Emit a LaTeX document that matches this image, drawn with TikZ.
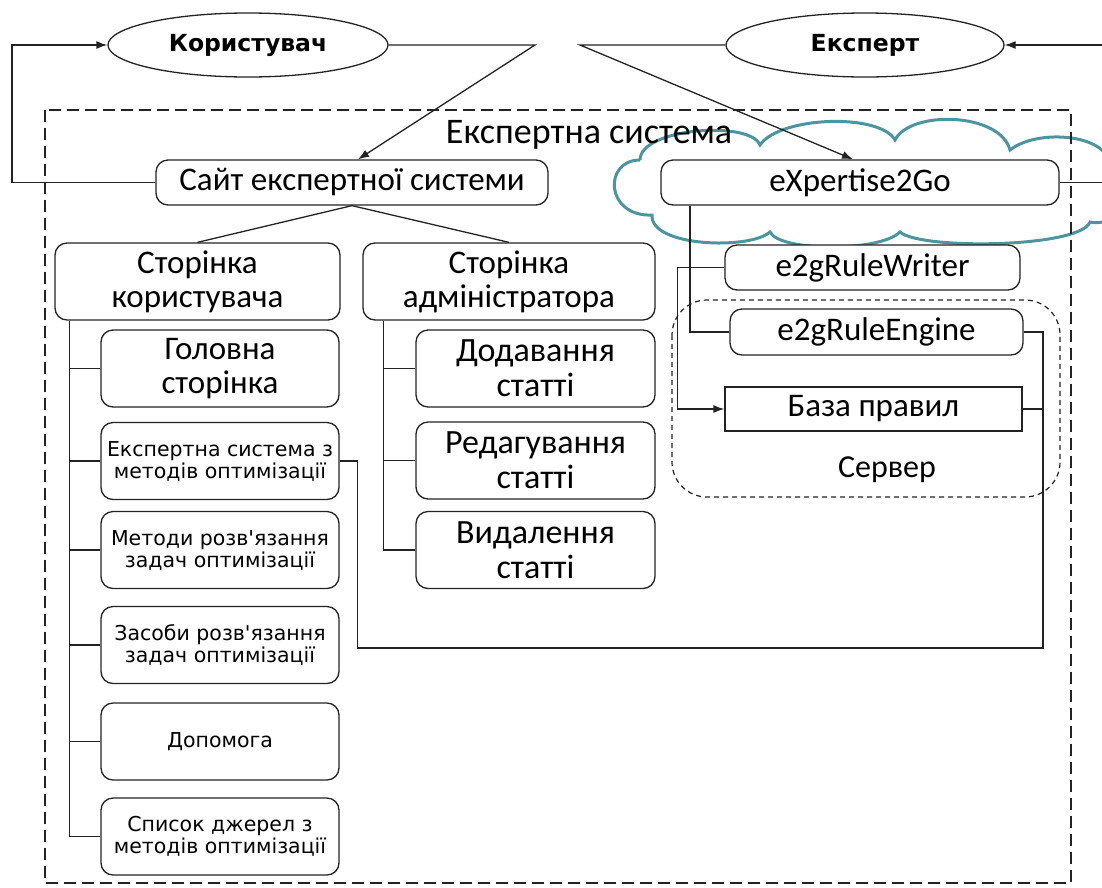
\documentclass[tikz,border=0pt]{standalone}
\usepackage{fontspec}
\setmainfont{Carlito}
\newfontfamily\verdfont{DejaVu Sans}
\usetikzlibrary{arrows.meta,shapes.geometric}
\definecolor{cloudteal}{RGB}{74,150,160}
\definecolor{inkgray}{RGB}{35,35,35}

\begin{document}
\begin{tikzpicture}[x=1pt,y=-1pt,
    box/.style={draw=inkgray,rounded corners=12pt,fill=white,line width=1.3pt,minimum height=45pt,
      inner sep=2pt,align=center,font=\fontsize{33}{34}\selectfont},
    subbox/.style={box,minimum width=238pt,minimum height=77pt},
    smallbox/.style={subbox,font=\verdfont\fontsize{20.5}{22}\selectfont},
    actor/.style={draw=inkgray,ellipse,line width=1.3pt,minimum width=280pt,minimum height=64pt,
      font=\verdfont\bfseries\fontsize{23.5}{26}\selectfont},
    link/.style={draw=inkgray,line width=1.3pt},
    arr/.style={link,-{Latex[length=11pt,width=8pt]}}]
  \useasboundingbox (0,0) rectangle (1102,887);
  \clip (0,0) rectangle (1102,887);

  \node[actor] (user) at (248,45) {Користувач};
  \node[actor,minimum width=278pt] (expert) at (865,45) {Експерт};

  \draw[cloudteal,line width=3pt] (640,160) .. controls (640,128) and (750,120) .. (760,145)
    .. controls (780,116) and (880,113) .. (895,140)
    .. controls (910,110) and (1000,112) .. (1010,150)
    .. controls (1040,126) and (1125,135) .. (1108,178)
    .. controls (1130,192) and (1120,228) .. (1090,222)
    .. controls (1080,248) and (920,250) .. (900,232)
    .. controls (880,252) and (780,252) .. (770,232)
    .. controls (750,250) and (650,247) .. (652,215)
    .. controls (605,217) and (603,160) .. (640,160);
  \draw[inkgray,line width=1.6pt,dash pattern=on 12pt off 6pt] (45,110) rectangle (1071,883);
  \node[font=\fontsize{36}{38}\selectfont] (syslabel) at (589,135) {Експертна система};

  \node[box,minimum width=392pt] (site) at (352,182.5) {Сайт експертної системи};
  \node[box,minimum width=398pt] (e2go) at (860,182.5) {eXpertise2Go};

  \node[box,minimum width=285pt,minimum height=77pt] (userpage) at (197.5,281.5) {Сторінка\\користувача};
  \node[box,minimum width=292pt,minimum height=77pt] (adminpage) at (509,281.5) {Сторінка\\адміністратора};

  \node[subbox] (mainpg) at (220,368.5) {Головна\\сторінка};
  \node[smallbox] (esys) at (220,461) {Експертна система з\\методів оптимізації};
  \node[smallbox] (methods) at (220,550) {Методи розв'язання\\задач оптимізації};
  \node[smallbox] (tools) at (220,645) {Засоби розв'язання\\задач оптимізації};
  \node[smallbox] (helppg) at (220,741.5) {Допомога};
  \node[smallbox] (sources) at (220,836.5) {Список джерел з\\методів оптимізації};

  \node[subbox,minimum width=239pt,font=\fontsize{34}{35}\selectfont] (addart) at (535.5,368.5) {Додавання\\статті};
  \node[subbox,minimum width=239pt,font=\fontsize{34}{35}\selectfont] (editart) at (535.5,460.5) {Редагування\\статті};
  \node[subbox,minimum width=239pt,font=\fontsize{34}{35}\selectfont] (delart) at (535.5,550) {Видалення\\статті};

  \draw[inkgray,line width=1.2pt,dash pattern=on 5pt off 4pt,rounded corners=35pt] (672,300) rectangle (1060,497);
  \node[box,minimum width=295pt] (writer) at (872.5,267.5) {e2gRuleWriter};
  \node[box,minimum width=293pt,minimum height=46pt] (engine) at (876.5,332) {e2gRuleEngine};
  \node[box,sharp corners,minimum width=297pt,minimum height=44pt] (kb) at (873.5,409) {База правил};
  \node[font=\fontsize{32}{34}\selectfont] (srvlabel) at (887,470) {Сервер};

  \coordinate (ujoin) at (535,45);
  \coordinate (ejoin) at (580,45);
  \draw[arr] (site.west) -- (12,182.5) |- (user.west);
  \draw[arr] (user.east) -- (ujoin) -- ([xshift=6pt]site.north);
  \draw[arr] (expert.west) -- (ejoin) -- ([xshift=-7pt]e2go.north);
  \draw[arr] (e2go.east) -- (1125,182.5) |- (expert.east);
  \draw[link] (site.south) -- (userpage.north);
  \draw[link] (site.south) -- (adminpage.north);

  \coordinate (utrunk) at ([xshift=15pt]userpage.south west);
  \draw[link] (utrunk) -- (utrunk |- sources.west);
  \foreach \n in {mainpg,esys,methods,tools,helppg,sources}
    \draw[link] (utrunk |- \n.west) -- (\n.west);
  \coordinate (atrunk) at ([xshift=21pt]adminpage.south west);
  \draw[link] (atrunk) -- (atrunk |- delart.west);
  \foreach \n in {addart,editart,delart}
    \draw[link] (atrunk |- \n.west) -- (\n.west);

  \coordinate (rtrunk) at (1043,648);
  \draw[link] (esys.east) -- ++(18,0) |- (rtrunk) |- (engine.east);
  \draw[link] (kb.east) -- (rtrunk |- kb.east);
  \draw[link] ([xshift=-170pt]e2go.south) |- (engine.west);
  \draw[arr] (writer.west) -- ++(-47,0) |- (kb.west);
\end{tikzpicture}
\end{document}
